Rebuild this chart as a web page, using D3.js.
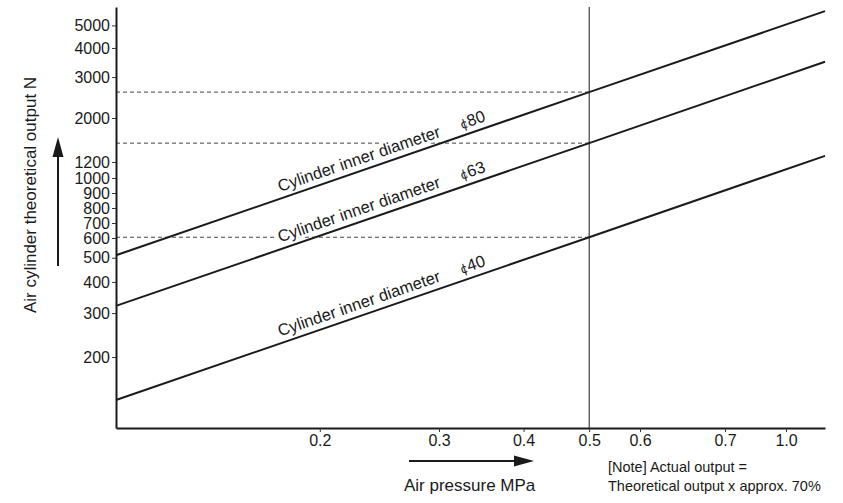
<!DOCTYPE html>
<html>
<head>
<meta charset="utf-8">
<script src="https://cdn.jsdelivr.net/npm/d3@7"></script>
<style>
body{margin:0;background:#fff;}
svg{display:block;font-family:"Liberation Sans",Arial,Helvetica,sans-serif;}
.axis line{stroke:#333;}
.axis path{stroke:#1a1a1a;stroke-width:2;}
.axis text{font-size:16px;fill:#1a1a1a;}
.bore-line{fill:none;stroke:#1a1a1a;stroke-width:2;}
.read-line{stroke:#444;stroke-width:1;stroke-dasharray:4,3;}
.bore-label{font-size:16.5px;fill:#1a1a1a;stroke:#fff;stroke-width:5;paint-order:stroke;stroke-linejoin:round;}
</style>
</head>
<body>
<div id="chart"></div>
<script>
// pressure (MPa) where each line was read, and the output there (N)
var pressures = [0.1, 0.5, 1.115];
var output40 = [124, 618, 1380];
var output63 = [314, 1565, 3495];
var output80 = [517, 2590, 5760];
var boreNames = ['40', '63', '80'];

var xTicks = [0.2, 0.3, 0.4, 0.5, 0.6, 0.7, 1.0];
var xTickLabels = ['0.2', '0.3', '0.4', '0.5', '0.6', '0.7', '1.0'];
var yTicks = [200, 300, 400, 500, 600, 700, 800, 900, 1000, 1200, 2000, 3000, 4000, 5000];

var readPressure = 0.5;
var labelPressure = 0.176;

var svgWidth = 843,
	svgHeight = 503;

var plot = {l:116, r:825, t:7, b:428};

var svg = d3.select('#chart')
	.append('svg')
	.attr('width', svgWidth)
	.attr('height', svgHeight);

var xScale = d3.scaleLog().domain([0.1, 1.115]).range([plot.l, plot.r]);
var yScale = d3.scaleLog().domain([94, 6000]).range([plot.b, plot.t]);

// the printed scales are not quite logarithmic, ticks follow the drawing
var xAxisScale = d3.scaleLog()
	.domain([0.1, 0.5, 0.6, 0.7, 1.0, 1.115])
	.range([plot.l, xScale(0.5), 640, 725, 786, plot.r]);

var yLogPart = d3.scaleLog()
	.domain([94, 200, 600, 1200, 2000, 6000])
	.range([plot.b, 357, 238, 162, 118, plot.t]);
var yEvenPart = d3.scaleLinear()
	.domain([600, 1000, 1200])
	.range([238, 178, 162]);

function yAxisScale(v) {
	return (v >= 600 && v <= 1200) ? yEvenPart(v) : yLogPart(v);
}
yAxisScale.domain = () => yLogPart.domain();
yAxisScale.range = () => yLogPart.range();
yAxisScale.copy = () => yAxisScale;

var series = [output40, output63, output80].map((v, i) => ({name: boreNames[i], values: v}));
var readIndex = pressures.indexOf(readPressure);

// dashed read-off lines
svg.append('g').selectAll('line')
	.data(series)
	.enter()
	.append('line')
	.classed('read-line', true)
	.attr('x1', plot.l)
	.attr('x2', xScale(readPressure))
	.attr('y1', d => yScale(d.values[readIndex]))
	.attr('y2', d => yScale(d.values[readIndex]));

// labels along the lines
var labels = svg.append('g').selectAll('text')
	.data(series)
	.enter()
	.append('text')
	.classed('bore-label', true)
	.attr('transform', d => {
		var x0 = xScale(pressures[0]), y0 = yScale(d.values[0]);
		var x1 = xScale(pressures[pressures.length - 1]), y1 = yScale(d.values[d.values.length - 1]);
		var x = xScale(labelPressure);
		var y = y0 + (x - x0) / (x1 - x0) * (y1 - y0);
		var angle = Math.atan2(y1 - y0, x1 - x0) * 180 / Math.PI;
		return `translate(${x},${y})rotate(${angle})translate(0,-6.5)`;
	});
labels.append('tspan').text('Cylinder inner diameter');
labels.append('tspan').attr('dx', 22).style('font-size', '13px').text('\u03D5');
labels.append('tspan').text(d => d.name);

var line = d3.line()
	.x((d, i) => xScale(pressures[i]))
	.y(d => yScale(d));

svg.append('g').selectAll('path')
	.data(series)
	.enter()
	.append('path')
	.classed('bore-line', true)
	.attr('d', d => line(d.values));

svg.append('line')
	.attr('x1', xScale(readPressure))
	.attr('x2', xScale(readPressure))
	.attr('y1', plot.t)
	.attr('y2', plot.b)
	.attr('stroke', '#1a1a1a')
	.attr('stroke-width', 1);

// axes
svg.append('g')
	.attr('class', 'axis')
	.attr('transform', `translate(0,${plot.b})`)
	.call(d3.axisBottom(xAxisScale)
		.tickValues(xTicks)
		.tickFormat((d, i) => xTickLabels[i])
		.tickSize(4)
		.tickSizeOuter(0)
		.tickPadding(3));

svg.append('g')
	.attr('class', 'axis')
	.attr('transform', `translate(${plot.l},0)`)
	.call(d3.axisLeft(yAxisScale)
		.tickValues(yTicks)
		.tickFormat(d3.format('d'))
		.tickSize(4)
		.tickSizeOuter(0)
		.tickPadding(2));

// titles and arrows
svg.append('text')
	.attr('transform', 'translate(36,195)rotate(-90)')
	.attr('text-anchor', 'middle')
	.style('font-size', '17px')
	.attr('fill', '#1a1a1a')
	.text('Air cylinder theoretical output N');

svg.append('line')
	.attr('x1', 58).attr('x2', 58)
	.attr('y1', 266).attr('y2', 152)
	.attr('stroke', '#1a1a1a').attr('stroke-width', 2);
svg.append('path')
	.attr('d', 'M58,137L52.5,157L63.5,157Z')
	.attr('fill', '#1a1a1a');

svg.append('line')
	.attr('x1', 409).attr('x2', 518)
	.attr('y1', 461).attr('y2', 461)
	.attr('stroke', '#1a1a1a').attr('stroke-width', 2);
svg.append('path')
	.attr('d', 'M534,461L514,455.5L514,466.5Z')
	.attr('fill', '#1a1a1a');

svg.append('text')
	.attr('x', 404)
	.attr('y', 491)
	.style('font-size', '17px')
	.attr('fill', '#1a1a1a')
	.text('Air pressure MPa');

var note = svg.append('text')
	.style('font-size', '14.5px')
	.attr('fill', '#1a1a1a');
note.append('tspan').attr('x', 608).attr('y', 472).text('[Note] Actual output =');
note.append('tspan').attr('x', 608).attr('y', 491).text('Theoretical output x approx. 70%');
</script>
</body>
</html>
